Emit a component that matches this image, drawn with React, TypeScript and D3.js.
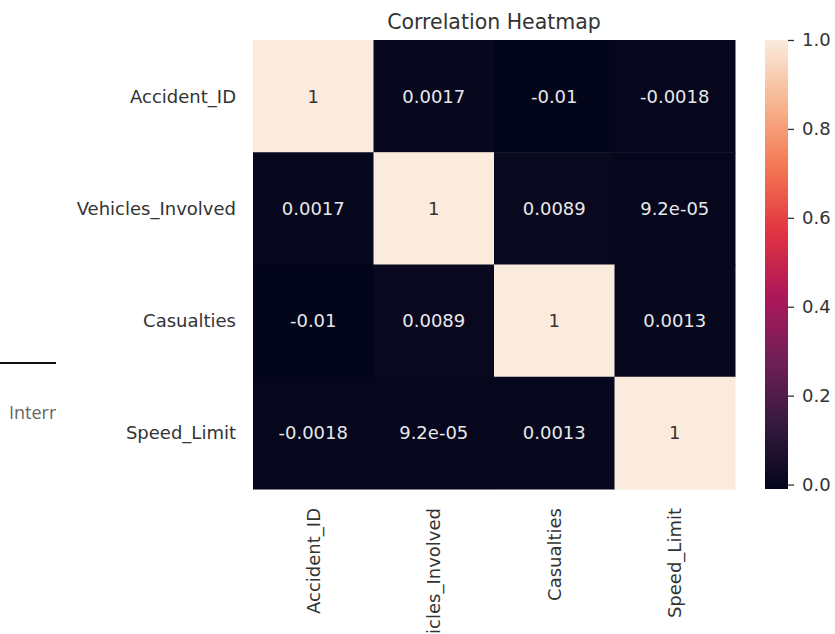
import React, { useEffect, useRef } from 'react';
import * as d3 from 'd3';

const variables = ['Accident_ID', 'Vehicles_Involved', 'Casualties', 'Speed_Limit'];

const accidentIdRow = [1, 0.0017, -0.01, -0.0018];
const vehiclesRow = [0.0017, 1, 0.0089, 9.2e-5];
const casualtiesRow = [-0.01, 0.0089, 1, 0.0013];
const speedLimitRow = [-0.0018, 9.2e-5, 0.0013, 1];
const corrRows = [accidentIdRow, vehiclesRow, casualtiesRow, speedLimitRow];

const colorbarTicks = [0, 0.2, 0.4, 0.6, 0.8, 1.0];

// rocket colormap, sampled
const rocketStops = ['#03051a', '#35193e', '#701f57', '#ad1759', '#e13342', '#f37651', '#f6b48f', '#faebdd'];

const W = 835;
const H = 634;

// python-like %.2g
const fmt2g = (v: number) => {
  if (v === 0) return '0';
  const exp = Math.floor(Math.log10(Math.abs(v)));
  if (exp < -4 || exp >= 2) {
    const s = v.toExponential(1).replace(/\.0e/, 'e');
    return s.replace(/e([+-])(\d)$/, 'e$10$2');
  }
  return String(parseFloat(v.toPrecision(2)));
};

const App = () => {
  const svgRef = useRef<SVGSVGElement>(null);

  useEffect(() => {
    const svg = d3.select(svgRef.current);
    svg.selectAll('*').remove();

    const font = 'DejaVu Sans, sans-serif';
    const textColor = '#333';

    const vmin = d3.min(corrRows.flat()) as number;
    const vmax = d3.max(corrRows.flat()) as number;

    const color = d3
      .scaleLinear<string>()
      .domain(rocketStops.map((_, i) => vmin + (i / (rocketStops.length - 1)) * (vmax - vmin)))
      .range(rocketStops)
      .interpolate(d3.interpolateRgb);

    const x = d3.scaleBand().domain(variables).range([253, 735]);
    const y = d3.scaleBand().domain(variables).range([40, 489]);

    // artifact on left side
    const defs = svg.append('defs');
    defs
      .append('clipPath')
      .attr('id', 'leftclip')
      .append('rect')
      .attr('x', 0)
      .attr('y', 0)
      .attr('width', 56)
      .attr('height', H);
    svg
      .append('line')
      .attr('x1', 0)
      .attr('x2', 56)
      .attr('y1', 363)
      .attr('y2', 363)
      .attr('stroke', '#111')
      .attr('stroke-width', 2);
    svg
      .append('text')
      .attr('clip-path', 'url(#leftclip)')
      .attr('x', 9)
      .attr('y', 419)
      .attr('font-family', 'Open Sans, sans-serif')
      .attr('font-size', 18)
      .attr('fill', '#666')
      .text('Internal');

    // cells
    const cells = corrRows.flatMap((row, i) =>
      row.map((v, j) => ({ r: variables[i], c: variables[j], v }))
    );

    const g = svg.append('g');
    g.selectAll('rect.cell')
      .data(cells)
      .enter()
      .append('rect')
      .attr('class', 'cell')
      .attr('x', d => x(d.c) as number)
      .attr('y', d => y(d.r) as number)
      .attr('width', x.bandwidth() + 0.5)
      .attr('height', y.bandwidth() + 0.5)
      .attr('fill', d => color(d.v));

    g.selectAll('text.annot')
      .data(cells)
      .enter()
      .append('text')
      .attr('class', 'annot')
      .attr('x', d => (x(d.c) as number) + x.bandwidth() / 2)
      .attr('y', d => (y(d.r) as number) + y.bandwidth() / 2)
      .attr('dy', '0.36em')
      .attr('text-anchor', 'middle')
      .attr('font-family', font)
      .attr('font-size', 18)
      .attr('fill', d => ((d.v - vmin) / (vmax - vmin) > 0.5 ? '#3a3030' : '#e8e8ea'))
      .text(d => fmt2g(d.v));

    // y labels
    svg
      .append('g')
      .selectAll('text')
      .data(variables)
      .enter()
      .append('text')
      .attr('x', 236)
      .attr('y', d => (y(d) as number) + y.bandwidth() / 2)
      .attr('dy', '0.36em')
      .attr('text-anchor', 'end')
      .attr('font-family', font)
      .attr('font-size', 18)
      .attr('fill', textColor)
      .text(d => d);

    // x labels
    svg
      .append('g')
      .selectAll('text')
      .data(variables)
      .enter()
      .append('text')
      .attr(
        'transform',
        d => `translate(${(x(d) as number) + x.bandwidth() / 2},508) rotate(-90)`
      )
      .attr('dy', '0.36em')
      .attr('text-anchor', 'end')
      .attr('font-family', font)
      .attr('font-size', 18)
      .attr('fill', textColor)
      .text(d => d);

    // title
    svg
      .append('text')
      .attr('x', (253 + 735) / 2)
      .attr('y', 29)
      .attr('text-anchor', 'middle')
      .attr('font-family', font)
      .attr('font-size', 20.5)
      .attr('fill', textColor)
      .text('Correlation Heatmap');

    // colorbar
    const cbY = d3.scaleLinear().domain([vmin, vmax]).range([489, 40]);
    const grad = defs
      .append('linearGradient')
      .attr('id', 'cbgrad')
      .attr('x1', 0)
      .attr('y1', 1)
      .attr('x2', 0)
      .attr('y2', 0);
    d3.range(0, 1.0001, 0.02).forEach(t => {
      grad
        .append('stop')
        .attr('offset', t)
        .attr('stop-color', color(vmin + t * (vmax - vmin)));
    });
    svg
      .append('rect')
      .attr('x', 765)
      .attr('y', 40)
      .attr('width', 23)
      .attr('height', 449)
      .attr('fill', 'url(#cbgrad)');

    const cbAxis = d3
      .axisRight(cbY)
      .tickValues(colorbarTicks)
      .tickFormat(d3.format('.1f'))
      .tickSize(6)
      .tickPadding(8);

    const ax = svg.append('g').attr('transform', 'translate(788,0)').call(cbAxis);
    ax.select('.domain').remove();
    ax.selectAll('line').attr('stroke', '#333').attr('stroke-width', 1.3);
    ax.selectAll('text')
      .attr('font-family', font)
      .attr('font-size', 18)
      .attr('fill', textColor);
  }, []);

  return (
    <svg
      ref={svgRef}
      width={W}
      height={H}
      style={{ position: 'absolute', left: 0, top: 0, background: '#fff' }}
    />
  );
};

export default App;
